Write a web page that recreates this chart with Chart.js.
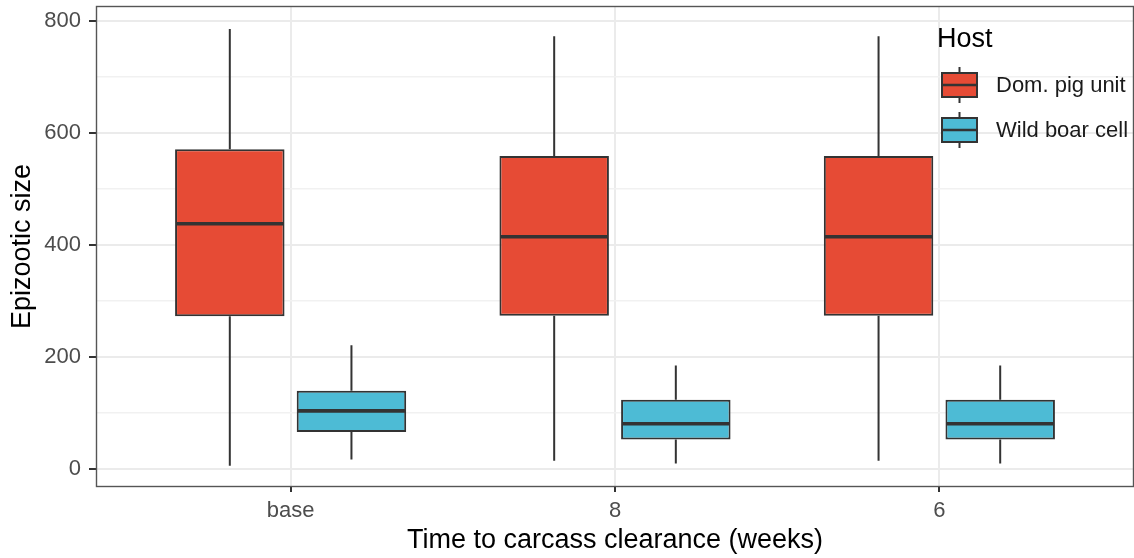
<!DOCTYPE html>
<html>
<head>
<meta charset="utf-8">
<script src="https://cdn.jsdelivr.net/npm/chart.js@4.4.1/dist/chart.umd.min.js"></script>
<style>
  body { margin: 0; background: #fff; }
  #wrap { width: 1134px; height: 558px; }
</style>
</head>
<body>
<div id="wrap"><canvas id="chart" width="1134" height="558"></canvas></div>
<script>
// categories on the x axis
const categories = ['base', '8', '6']
const hosts = ['Dom. pig unit', 'Wild boar cell']
const hostColors = ['#E64B35', '#4DBBD5']

// box statistics per host, one value per category
const domMin = [5, 14, 14]
const domQ1 = [272, 273, 273]
const domMedian = [437, 414, 414]
const domQ3 = [570, 558, 558]
const domMax = [785, 772, 772]

const wildMin = [16, 9, 9]
const wildQ1 = [65, 52, 52]
const wildMedian = [103, 80, 80]
const wildQ3 = [139, 123, 123]
const wildMax = [220, 184, 184]

const yTicks = [0, 100, 200, 300, 400, 500, 600, 700, 800]

const stats = [
  { min: domMin, q1: domQ1, med: domMedian, q3: domQ3, max: domMax },
  { min: wildMin, q1: wildQ1, med: wildMedian, q3: wildQ3, max: wildMax },
]

const font = '"Liberation Sans", Arial, sans-serif'
const ink = '#333333'

const boxExtras = {
  id: 'boxExtras',
  afterDatasetsDraw(chart) {
    const { ctx, scales } = chart
    const y = scales.y
    ctx.save()
    ctx.strokeStyle = ink
    chart.data.datasets.forEach((ds, di) => {
      const s = stats[di]
      chart.getDatasetMeta(di).data.forEach((bar, i) => {
        const half = bar.width / 2
        // whiskers
        ctx.lineWidth = 2
        ctx.beginPath()
        ctx.moveTo(bar.x, y.getPixelForValue(s.q3[i]))
        ctx.lineTo(bar.x, y.getPixelForValue(s.max[i]))
        ctx.moveTo(bar.x, y.getPixelForValue(s.q1[i]))
        ctx.lineTo(bar.x, y.getPixelForValue(s.min[i]))
        ctx.stroke()
        // median
        ctx.lineWidth = 3.6
        ctx.beginPath()
        ctx.moveTo(bar.x - half + 1, y.getPixelForValue(s.med[i]))
        ctx.lineTo(bar.x + half - 1, y.getPixelForValue(s.med[i]))
        ctx.stroke()
      })
    })
    ctx.restore()
  },
  afterDraw(chart) {
    const { ctx, chartArea } = chart
    ctx.save()
    // panel border
    ctx.strokeStyle = '#555555'
    ctx.lineWidth = 1.4
    ctx.strokeRect(chartArea.left + 0.5, chartArea.top + 0.5,
      chartArea.right - chartArea.left - 1, chartArea.bottom - chartArea.top - 1)

    // legend
    ctx.fillStyle = '#000'
    ctx.font = '27px ' + font
    ctx.textBaseline = 'alphabetic'
    ctx.textAlign = 'left'
    ctx.fillText('Host', 937, 47)
    hosts.forEach((h, i) => {
      const cy = 85 + i * 45
      const cx = 959.5
      ctx.strokeStyle = ink
      ctx.lineWidth = 2
      ctx.beginPath()
      ctx.moveTo(cx, cy - 18)
      ctx.lineTo(cx, cy + 18)
      ctx.stroke()
      ctx.fillStyle = hostColors[i]
      ctx.fillRect(942, cy - 12, 35, 24)
      ctx.lineWidth = 2
      ctx.strokeRect(942, cy - 12, 35, 24)
      ctx.lineWidth = 2.6
      ctx.beginPath()
      ctx.moveTo(942, cy)
      ctx.lineTo(977, cy)
      ctx.stroke()
      ctx.fillStyle = '#1a1a1a'
      ctx.font = '22px ' + font
      ctx.textBaseline = 'middle'
      ctx.fillText(h, 996, cy + 1)
    })
    ctx.restore()
  },
}

const datasets = hosts.map((h, di) => ({
  label: h,
  data: categories.map((c, i) => ({ x: i + 1, y: [stats[di].q1[i], stats[di].q3[i]] })),
  backgroundColor: hostColors[di],
  borderColor: ink,
  borderWidth: 2,
  borderSkipped: false,
  categoryPercentage: 0.75,
  barPercentage: 0.9,
}))

new Chart(document.getElementById('chart').getContext('2d'), {
  type: 'bar',
  data: { datasets },
  plugins: [boxExtras],
  options: {
    responsive: false,
    animation: false,
    layout: { padding: { top: 6, right: 0, left: 0, bottom: 0 } },
    plugins: {
      legend: { display: false },
      tooltip: { enabled: false },
    },
    scales: {
      x: {
        type: 'linear',
        min: 0.4,
        max: 3.6,
        offset: false,
        afterBuildTicks: (scale) => {
          scale.ticks = categories.map((c, i) => ({ value: i + 1 }))
        },
        afterFit: (scale) => {
          scale.height = 71
          scale.paddingLeft = 0
          scale.paddingRight = 0
        },
        grid: { color: '#EBEBEB', lineWidth: 2, tickColor: ink, tickLength: 5, offset: false },
        border: { display: false },
        ticks: {
          padding: 6,
          color: '#4D4D4D',
          font: { family: font, size: 22 },
          maxRotation: 0,
          callback: (value) => categories[value - 1],
        },
        title: {
          display: true,
          text: 'Time to carcass clearance (weeks)',
          color: '#000',
          font: { family: font, size: 27 },
          padding: { top: 0, bottom: 1 },
        },
      },
      y: {
        min: -33,
        max: 826,
        afterBuildTicks: (scale) => {
          scale.ticks = yTicks.map((v) => ({ value: v }))
        },
        afterFit: (scale) => {
          scale.width = 96
          scale.paddingTop = 0
          scale.paddingBottom = 0
        },
        grid: {
          color: (c) => (c.tick && c.tick.value % 200 === 0 ? '#EBEBEB' : '#F1F1F1'),
          lineWidth: (c) => (c.tick && c.tick.value % 200 === 0 ? 2 : 1.6),
          tickColor: (c) => (c.tick && c.tick.value % 200 === 0 ? ink : 'rgba(0,0,0,0)'),
          tickLength: 7,
        },
        border: { display: false },
        ticks: {
          padding: 8,
          color: '#4D4D4D',
          font: { family: font, size: 22 },
          callback: (value) => (value % 200 === 0 ? value : ''),
        },
        title: {
          display: true,
          text: 'Epizootic size',
          color: '#000',
          font: { family: font, size: 27 },
          padding: { top: 6, bottom: 0 },
        },
      },
    },
  },
})
</script>
</body>
</html>
